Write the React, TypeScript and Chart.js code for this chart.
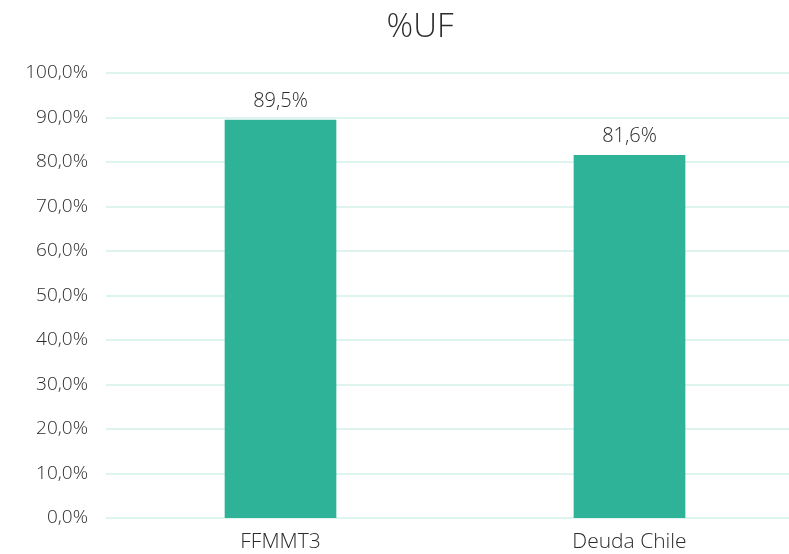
import React, { useEffect, useRef } from "react";
import { Chart, registerables } from "chart.js";

Chart.register(...registerables);

const categories = ["FFMMT3", "Deuda Chile"];
const values = [89.5, 81.6];
const titleText = "%UF";
const yMin = 0;
const yMax = 100;
const yStep = 10;

const fmt = (v: number) => v.toFixed(1).replace(".", ",") + "%";

const FONT = "'Open Sans', Lato, sans-serif";
const TEXT = "#2b2b2b";
const GRID = "#ddf4ef";

export default function App() {
  const ref = useRef<HTMLCanvasElement>(null);
  useEffect(() => {
    document.body.style.overflow = "hidden";
    if (!ref.current) return;
    const gridPlugin = {
      id: "fullGrid",
      beforeDatasetsDraw(chart: any) {
        const ctx = chart.ctx;
        const ys = chart.scales.y;
        const area = chart.chartArea;
        ctx.save();
        ctx.lineWidth = 2;
        ctx.strokeStyle = GRID;
        ys.ticks.forEach((t: any) => {
          const y = Math.round(ys.getPixelForValue(t.value));
          ctx.beginPath();
          ctx.moveTo(area.left, y);
          ctx.lineTo(area.right, y);
          ctx.stroke();
        });
        ctx.restore();
      },
    };
    const labelPlugin = {
      id: "labelsAndTitle",
      afterDatasetsDraw(chart: any) {
        const ctx = chart.ctx;
        ctx.save();
        ctx.fillStyle = TEXT;
        ctx.font = `300 20px ${FONT}`;
        ctx.textAlign = "center";
        ctx.textBaseline = "alphabetic";
        const meta = chart.getDatasetMeta(0);
        meta.data.forEach((bar: any, i: number) => {
          ctx.fillText(fmt(values[i]), bar.x, bar.y - 13);
        });
        ctx.font = `300 33px ${FONT}`;
        ctx.textBaseline = "middle";
        ctx.fillText(titleText, chart.width / 2, 28);
        ctx.restore();
      },
    };
    const chart = new Chart(ref.current, {
      type: "bar",
      data: {
        labels: categories,
        datasets: [
          {
            data: values,
            backgroundColor: "#2eb398",
            borderWidth: 0,
            categoryPercentage: 1,
            barPercentage: 0.32,
          },
        ],
      },
      options: {
        responsive: false,
        animation: false,
        layout: { padding: { top: 73, left: 0, right: 36, bottom: 0 } },
        plugins: {
          legend: { display: false },
          title: { display: false },
          tooltip: { enabled: false },
        },
        scales: {
          x: {
            grid: { display: false, drawTicks: false },
            border: { display: false },
            ticks: {
              color: TEXT,
              font: { family: FONT, size: 21, weight: "300" as any },
              padding: 11,
            },
            afterFit: (s: any) => {
              s.height = 36;
            },
          },
          y: {
            min: yMin,
            max: yMax,
            grid: { display: false, drawTicks: false },
            border: { display: false },
            ticks: {
              stepSize: yStep,
              color: TEXT,
              font: { family: FONT, size: 19, weight: "300" as any },
              padding: 18,
              callback: (v: any) => fmt(Number(v)),
            },
            afterFit: (s: any) => {
              s.width = 106;
            },
          },
        },
      },
      plugins: [gridPlugin, labelPlugin],
    });
    return () => chart.destroy();
  }, []);
  return (
    <div
      style={{
        position: "absolute",
        left: 0,
        top: 0,
        width: "100vw",
        height: 554,
        overflow: "hidden",
        background: "#fff",
      }}
    >
      <canvas ref={ref} width={840} height={554} style={{ width: 840, height: 554, display: "block" }} />
    </div>
  );
}
